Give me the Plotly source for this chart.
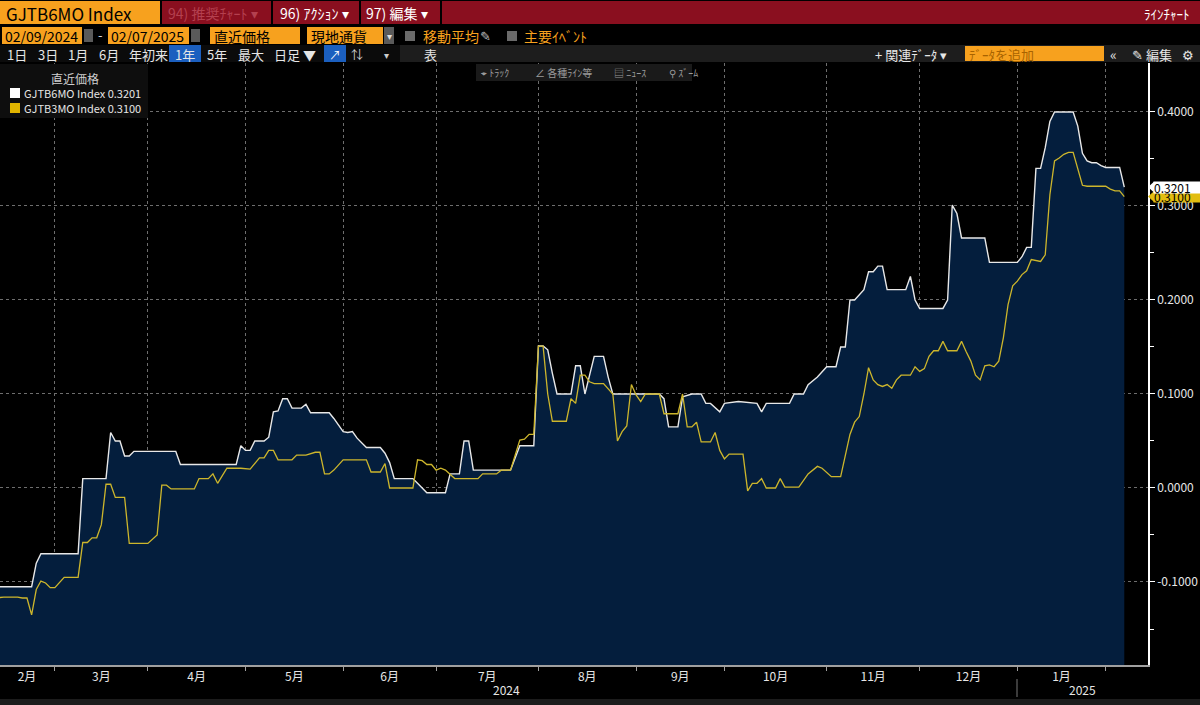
import pandas as pd
import plotly.graph_objects as go

# GJTB6MO (6M JGB bill yield), vertices
DATES_6M = [
    "2024-02-09", "2024-02-22", "2024-02-26", "2024-02-27", "2024-03-08", "2024-03-11",
    "2024-03-18", "2024-03-19", "2024-03-21", "2024-03-22", "2024-03-25", "2024-03-26",
    "2024-03-27", "2024-04-09", "2024-04-10", "2024-04-26", "2024-04-30", "2024-05-01",
    "2024-05-02", "2024-05-07", "2024-05-09", "2024-05-10", "2024-05-13", "2024-05-14",
    "2024-05-15", "2024-05-16", "2024-05-17", "2024-05-21", "2024-05-22", "2024-05-23",
    "2024-05-29", "2024-05-30", "2024-06-03", "2024-06-04", "2024-06-05", "2024-06-06",
    "2024-06-10", "2024-06-13", "2024-06-14", "2024-06-17", "2024-06-18", "2024-06-24",
    "2024-06-25", "2024-06-27", "2024-07-03", "2024-07-04", "2024-07-08", "2024-07-09",
    "2024-07-10", "2024-07-11", "2024-07-24", "2024-07-25", "2024-07-26", "2024-07-31",
    "2024-08-01", "2024-08-02", "2024-08-05", "2024-08-06", "2024-08-07", "2024-08-13",
    "2024-08-14", "2024-08-15", "2024-08-16", "2024-08-20", "2024-08-22", "2024-08-23",
    "2024-08-26", "2024-09-09", "2024-09-10", "2024-09-11", "2024-09-13", "2024-09-17",
    "2024-09-19", "2024-09-24", "2024-09-25", "2024-09-26", "2024-09-30", "2024-10-01",
    "2024-10-04", "2024-10-10", "2024-10-11", "2024-10-15", "2024-10-22", "2024-10-23",
    "2024-10-25", "2024-10-28", "2024-10-30", "2024-11-01", "2024-11-06", "2024-11-07",
    "2024-11-08", "2024-11-11", "2024-11-12", "2024-11-14", "2024-11-15", "2024-11-18",
    "2024-11-19", "2024-11-20", "2024-11-21", "2024-11-27", "2024-11-28", "2024-11-29",
    "2024-12-02", "2024-12-09", "2024-12-10", "2024-12-11", "2024-12-12", "2024-12-13",
    "2024-12-20", "2024-12-23", "2025-01-06", "2025-01-07", "2025-01-08", "2025-01-09",
    "2025-01-10", "2025-01-14", "2025-01-15", "2025-01-16", "2025-01-17", "2025-01-23",
    "2025-01-24", "2025-01-27", "2025-01-28", "2025-01-29", "2025-01-30", "2025-01-31",
    "2025-02-03", "2025-02-06", "2025-02-07",
]
YIELD_6M = [
    -0.105, -0.105, -0.080, -0.070, -0.070, 0.010,
    0.010, 0.059, 0.050, 0.050, 0.034, 0.034,
    0.039, 0.039, 0.025, 0.025, 0.045, 0.040,
    0.040, 0.050, 0.050, 0.054, 0.081, 0.082,
    0.095, 0.095, 0.085, 0.085, 0.089, 0.080,
    0.080, 0.074, 0.060, 0.059, 0.060, 0.053,
    0.043, 0.043, 0.037, 0.027, 0.010, 0.010,
    0.005, -0.005, -0.005, 0.015, 0.015, 0.050,
    0.050, 0.019, 0.019, 0.033, 0.045, 0.045,
    0.151, 0.151, 0.147, 0.122, 0.100, 0.100,
    0.130, 0.130, 0.100, 0.140, 0.140, 0.118,
    0.100, 0.100, 0.095, 0.065, 0.065, 0.097,
    0.100, 0.100, 0.090, 0.090, 0.081, 0.090,
    0.092, 0.090, 0.081, 0.090, 0.090, 0.100,
    0.100, 0.110, 0.118, 0.129, 0.129, 0.150,
    0.150, 0.200, 0.200, 0.211, 0.230, 0.230,
    0.236, 0.236, 0.211, 0.211, 0.225, 0.200,
    0.191, 0.191, 0.200, 0.301, 0.292, 0.266,
    0.266, 0.240, 0.240, 0.246, 0.256, 0.256,
    0.340, 0.340, 0.362, 0.390, 0.400, 0.400,
    0.385, 0.356, 0.348, 0.346, 0.346, 0.343,
    0.341, 0.341, 0.3201,
]

# GJTB3MO (3M JGB bill yield)
DATES_3M = [
    "2024-02-09", "2024-02-13", "2024-02-14", "2024-02-19", "2024-02-20", "2024-02-21",
    "2024-02-22", "2024-02-26", "2024-02-27", "2024-02-28", "2024-02-29", "2024-03-01",
    "2024-03-04", "2024-03-05", "2024-03-08", "2024-03-11", "2024-03-12", "2024-03-13",
    "2024-03-14", "2024-03-15", "2024-03-18", "2024-03-19", "2024-03-21", "2024-03-25",
    "2024-03-26", "2024-04-01", "2024-04-03", "2024-04-04", "2024-04-05", "2024-04-08",
    "2024-04-15", "2024-04-16", "2024-04-18", "2024-04-19", "2024-04-22", "2024-04-24",
    "2024-04-30", "2024-05-02", "2024-05-08", "2024-05-09", "2024-05-10", "2024-05-13",
    "2024-05-14", "2024-05-17", "2024-05-20", "2024-05-22", "2024-05-24", "2024-05-27",
    "2024-05-28", "2024-05-29", "2024-05-30", "2024-06-03", "2024-06-10", "2024-06-11",
    "2024-06-13", "2024-06-14", "2024-06-17", "2024-06-24", "2024-06-25", "2024-06-26",
    "2024-06-27", "2024-06-28", "2024-07-01", "2024-07-02", "2024-07-03", "2024-07-05",
    "2024-07-12", "2024-07-16", "2024-07-19", "2024-07-22", "2024-07-24", "2024-07-25",
    "2024-07-26", "2024-07-29", "2024-07-30", "2024-07-31", "2024-08-01", "2024-08-02",
    "2024-08-05", "2024-08-06", "2024-08-09", "2024-08-13", "2024-08-14", "2024-08-15",
    "2024-08-16", "2024-08-19", "2024-08-20", "2024-08-22", "2024-08-23", "2024-08-26",
    "2024-08-27", "2024-08-28", "2024-08-29", "2024-08-30", "2024-09-02", "2024-09-03",
    "2024-09-04", "2024-09-09", "2024-09-10", "2024-09-13", "2024-09-17", "2024-09-18",
    "2024-09-19", "2024-09-20", "2024-09-24", "2024-09-26", "2024-09-27", "2024-09-30",
    "2024-10-01", "2024-10-02", "2024-10-07", "2024-10-08", "2024-10-09", "2024-10-10",
    "2024-10-11", "2024-10-15", "2024-10-17", "2024-10-18", "2024-10-21", "2024-10-24",
    "2024-10-28", "2024-10-29", "2024-10-30", "2024-10-31", "2024-11-01", "2024-11-05",
    "2024-11-07", "2024-11-08", "2024-11-11", "2024-11-12", "2024-11-13", "2024-11-14",
    "2024-11-15", "2024-11-18", "2024-11-19", "2024-11-20", "2024-11-21", "2024-11-22",
    "2024-11-25", "2024-11-26", "2024-11-28", "2024-11-29", "2024-12-02", "2024-12-03",
    "2024-12-04", "2024-12-05", "2024-12-06", "2024-12-09", "2024-12-10", "2024-12-12",
    "2024-12-13", "2024-12-16", "2024-12-17", "2024-12-18", "2024-12-19", "2024-12-20",
    "2024-12-23", "2024-12-24", "2024-12-25", "2024-12-26", "2024-12-27", "2024-12-30",
    "2025-01-06", "2025-01-07", "2025-01-08", "2025-01-09", "2025-01-10", "2025-01-14",
    "2025-01-15", "2025-01-16", "2025-01-17", "2025-01-20", "2025-01-21", "2025-01-22",
    "2025-01-23", "2025-01-24", "2025-01-27", "2025-01-28", "2025-02-03", "2025-02-04",
    "2025-02-05", "2025-02-06", "2025-02-07",
]
YIELD_3M = [
    -0.119, -0.117, -0.116, -0.116, -0.117, -0.117,
    -0.135, -0.108, -0.099, -0.101, -0.106, -0.106,
    -0.100, -0.095, -0.095, -0.058, -0.058, -0.053,
    -0.053, -0.039, 0.004, 0.004, -0.010, -0.010,
    -0.059, -0.059, -0.050, 0.003, 0.003, -0.001,
    -0.001, 0.010, 0.010, 0.015, 0.005, 0.021,
    0.021, 0.020, 0.032, 0.032, 0.040, 0.040,
    0.030, 0.030, 0.035, 0.035, 0.038, 0.038,
    0.015, 0.015, 0.019, 0.030, 0.030, 0.017,
    0.017, 0.026, 0.000, 0.000, 0.030, 0.029,
    0.025, 0.025, 0.019, 0.021, 0.019, 0.010,
    0.010, 0.015, 0.015, 0.019, 0.019, 0.035,
    0.051, 0.052, 0.057, 0.057, 0.151, 0.151,
    0.100, 0.071, 0.071, 0.095, 0.090, 0.120,
    0.120, 0.113, 0.111, 0.111, 0.105, 0.100,
    0.050, 0.060, 0.066, 0.110, 0.099, 0.092,
    0.100, 0.100, 0.079, 0.079, 0.100, 0.065,
    0.065, 0.070, 0.049, 0.049, 0.059, 0.040,
    0.031, 0.036, 0.036, -0.003, 0.005, 0.005,
    0.010, 0.000, 0.000, 0.010, 0.001, 0.001,
    0.015, 0.019, 0.023, 0.021, 0.016, 0.012,
    0.012, 0.035, 0.057, 0.070, 0.076, 0.100,
    0.128, 0.115, 0.110, 0.108, 0.110, 0.106,
    0.115, 0.120, 0.120, 0.129, 0.124, 0.127,
    0.140, 0.146, 0.146, 0.156, 0.146, 0.146,
    0.156, 0.145, 0.135, 0.120, 0.115, 0.130,
    0.131, 0.129, 0.135, 0.160, 0.195, 0.215,
    0.220, 0.227, 0.231, 0.243, 0.242, 0.241,
    0.248, 0.312, 0.348, 0.351, 0.355, 0.357,
    0.357, 0.338, 0.322, 0.321, 0.321, 0.318,
    0.316, 0.316, 0.3100,
]

SERIES_NAMES = ["GJTB6MO Index", "GJTB3MO Index"]
LAST_VALUES = [0.3201, 0.3100]

# first trading day of each month (grid lines) and the month labels between them
MONTH_STARTS = [
    "2024-02-13", "2024-03-01", "2024-04-01", "2024-05-01", "2024-06-03", "2024-07-01",
    "2024-08-01", "2024-09-02", "2024-10-01", "2024-11-01", "2024-12-02", "2025-01-06",
    "2025-02-03",
]
MONTH_LABELS = ["2月", "3月", "4月", "5月", "6月", "7月", "8月", "9月", "10月", "11月", "12月", "1月"]
YEAR_LABELS = ["2024", "2025"]
Y_TICKS = [-0.1, 0.0, 0.1, 0.2, 0.3, 0.4]
Y_MINOR = [-0.15, -0.05, 0.05, 0.15, 0.25, 0.35]

# Tokyo market holidays skipped by the time axis
JP_HOLIDAYS = [
    "2024-02-12", "2024-02-23", "2024-03-20", "2024-04-29", "2024-05-03", "2024-05-06",
    "2024-07-15", "2024-08-12", "2024-09-16", "2024-09-23", "2024-10-14", "2024-11-04",
    "2024-12-31", "2025-01-01", "2025-01-02", "2025-01-03", "2025-01-13", "2025-02-11",
]

X_RANGE = ["2024-02-13 04:48", "2025-02-17 02:24"]
Y_RANGE = [-0.1883, 0.4521]

FONT = "Liberation Sans Narrow, Arial Narrow, Noto Sans CJK JP, sans-serif"
RED = "#8a0f1f"
ORANGE = "#f7a11e"
NAVY = "#041e3d"
WHITE_LINE = "#e8e8e8"
YELLOW_LINE = "#cdb62c"
GRID = "#6e6e6e"

W, H = 1200, 705
ML, MR, MT, MB = 0, 52, 63, 40
PW, PH = W - ML - MR, H - MT - MB


def fx(px):
    return (px - ML) / PW


def fy(py):
    return (H - MB - py) / PH


shapes = []
annotations = []


def box(x0, y0, x1, y1, color):
    shapes.append(dict(type="rect", xref="paper", yref="paper",
                       x0=fx(x0), x1=fx(x1), y0=fy(y1), y1=fy(y0),
                       fillcolor=color, line_width=0, layer="above"))


def label(x, y, text, color="#e6e6e6", size=12, anchor="left"):
    annotations.append(dict(xref="paper", yref="paper", x=fx(x), y=fy(y), text=text,
                            showarrow=False, xanchor=anchor, yanchor="middle",
                            font=dict(family=FONT, size=size, color=color)))


# month label positions: middle of each month's trading days
cal = pd.bdate_range("2024-02-01", "2025-02-28", freq="C", holidays=JP_HOLIDAYS)
label_pos = []
for a, b in zip(MONTH_STARTS[:-1], MONTH_STARTS[1:]):
    m = (cal.get_loc(pd.Timestamp(a)) + cal.get_loc(pd.Timestamp(b))) / 2
    label_pos.append(cal[int(m)] + pd.Timedelta(hours=24 * (m % 1)))

fig = go.Figure()
fig.add_trace(go.Scatter(x=DATES_6M, y=[Y_RANGE[0]] * len(DATES_6M), mode="lines",
                         line=dict(width=0), hoverinfo="skip", showlegend=False))
fig.add_trace(go.Scatter(x=DATES_6M, y=YIELD_6M, mode="lines", name=SERIES_NAMES[0],
                         fill="tonexty", fillcolor=NAVY,
                         line=dict(color=WHITE_LINE, width=1.4), showlegend=False))
fig.add_trace(go.Scatter(x=DATES_3M, y=YIELD_3M, mode="lines", name=SERIES_NAMES[1],
                         line=dict(color=YELLOW_LINE, width=1.3), showlegend=False))

# --- terminal header rows ---
box(0, 1, 1200, 24, RED)
box(0, 1, 160, 24, ORANGE)
for sx in (160, 271, 359, 440):
    box(sx, 1, sx + 2, 24, "#000000")
label(4, 13, "GJTB6MO Index", "#000000", 17)
label(166, 13, "94) 推奨ﾁｬｰﾄ ▾", "#b4404f", 14)
label(278, 13, "96) ｱｸｼｮﾝ ▾", "#ffffff", 14)
label(364, 13, "97) 編集 ▾", "#ffffff", 14)
label(1192, 13, "ﾗｲﾝﾁｬｰﾄ", "#ffffff", 13, "right")

box(2, 27, 82, 44, ORANGE)
box(84, 29, 93, 42, "#5a5a5a")
label(100, 35, "-", "#dddddd", 13, "center")
box(108, 27, 189, 44, ORANGE)
box(191, 29, 200, 42, "#5a5a5a")
box(210, 27, 300, 44, ORANGE)
box(307, 27, 383, 44, ORANGE)
box(384, 27, 394, 44, "#5a5a5a")
box(405, 31, 415, 41, "#6a6a6a")
box(507, 31, 517, 41, "#6a6a6a")
label(3, 36, "02/09/2024", "#000000", 14)
label(109, 36, "02/07/2025", "#000000", 14)
label(212, 36, "直近価格", "#000000", 14)
label(309, 36, "現地通貨", "#000000", 14)
label(389, 36, "▾", "#dddddd", 10, "center")
label(421, 36, "移動平均", ORANGE, 14)
label(478, 36, "✎", "#bbbbbb", 13)
label(522, 36, "主要ｲﾍﾞﾝﾄ", ORANGE, 14)

box(0, 45, 400, 62, "#0b0b0b")
box(400, 45, 1200, 62, "#1d1d1d")
box(169, 45, 201, 62, "#1b5fbf")
box(324, 45, 346, 62, "#1b5fbf")
for x, t in [(5, "1日"), (36, "3日"), (66, "1月"), (97, "6月"), (127, "年初来"),
             (173, "1年"), (205, "5年"), (236, "最大"), (272, "日足 ▼")]:
    label(x, 54, t, "#e6e6e6", 13)
label(335, 54, "↗", "#ffffff", 12, "center")
label(357, 54, "⇅", "#cccccc", 12, "center")
label(386, 54, "▾", "#cccccc", 10, "center")
label(430, 54, "表", "#e6e6e6", 13, "center")
label(873, 54, "+ 関連ﾃﾞｰﾀ ▾", "#e6e6e6", 13)
box(965, 46, 1104, 61, ORANGE)
label(967, 54, "ﾃﾞｰﾀを追加", "#a86300", 13)
label(1113, 54, "«", "#e6e6e6", 14, "center")
label(1130, 54, "✎ 編集", "#e6e6e6", 13)
label(1188, 54, "⚙", "#e6e6e6", 13, "center")

# chart tool strip
box(476, 64, 692, 81, "#1a1a1a")
label(479, 72, "⌖ ﾄﾗｯｸ", "#9a9a9a", 10)
label(533, 72, "∠ 各種ﾗｲﾝ等", "#9a9a9a", 10)
label(612, 72, "▤ ﾆｭｰｽ", "#9a9a9a", 10)
label(667, 72, "⚲ ｽﾞｰﾑ", "#9a9a9a", 10)

# legend box
box(0, 64, 148, 118, "#0e0e0e")
label(75, 78, "直近価格", "#cfcfcf", 12, "center")
box(10, 88, 20, 98, "#ffffff")
box(10, 103, 20, 113, "#e0b400")
label(22, 93, f"{SERIES_NAMES[0]} {LAST_VALUES[0]:.4f}", "#e6e6e6", 11)
label(22, 108, f"{SERIES_NAMES[1]} {LAST_VALUES[1]:.4f}", "#e6e6e6", 11)

# last value tags on the right axis (3M first so the 6M tag sits on top)
for val, bg in [(LAST_VALUES[1], "#e2bd10"), (LAST_VALUES[0], "#ffffff")]:
    annotations.append(dict(xref="paper", yref="y", x=fx(1153), y=val, text=f"{val:.4f}",
                            showarrow=False, xanchor="left", yanchor="middle",
                            bgcolor=bg, borderpad=0, width=47, height=11, align="left",
                            font=dict(family=FONT, size=12, color="#000000")))
    shapes.append(dict(type="path", xref="paper", yref="y", fillcolor=bg, line_width=0,
                       layer="above",
                       path=f"M {fx(1148)} {val} L {fx(1154)} {val + 0.0058} "
                            f"L {fx(1154)} {val - 0.0058} Z"))

# year row under the month labels
label(506, 689, YEAR_LABELS[0], "#e6e6e6", 12, "center")
label(1082, 689, YEAR_LABELS[1], "#e6e6e6", 12, "center")
shapes.append(dict(type="line", xref="paper", yref="paper", x0=fx(1017), x1=fx(1017),
                   y0=fy(679), y1=fy(697), line=dict(color="#777777", width=1)))
box(0, 699, 1200, 705, "#1c1c1c")

fig.update_layout(
    width=W, height=H, autosize=False,
    margin=dict(l=ML, r=MR, t=MT, b=MB),
    paper_bgcolor="#000000", plot_bgcolor="#000000",
    font=dict(family=FONT, color="#e6e6e6"),
    showlegend=False, hovermode=False,
    shapes=shapes, annotations=annotations,
    xaxis=dict(
        type="date", range=X_RANGE,
        rangebreaks=[dict(bounds=["sat", "mon"]), dict(values=JP_HOLIDAYS)],
        tickvals=label_pos, ticktext=MONTH_LABELS, ticks="",
        tickfont=dict(family=FONT, size=12, color="#e6e6e6"),
        showgrid=False, zeroline=False,
        showline=True, linecolor="#a0a0a0", linewidth=2,
        minor=dict(tickvals=MONTH_STARTS[1:], ticks="outside", ticklen=4,
                   tickcolor="#a0a0a0", showgrid=True, gridcolor=GRID,
                   griddash="dot", gridwidth=1),
    ),
    yaxis=dict(
        side="right", range=Y_RANGE,
        tickvals=Y_TICKS, ticktext=[f"{v:.4f}" for v in Y_TICKS],
        ticks="outside", ticklen=5, tickcolor="#ffffff",
        tickfont=dict(family=FONT, size=12, color="#e6e6e6"),
        showline=True, linecolor="#ffffff", linewidth=1.5,
        showgrid=True, gridcolor=GRID, griddash="dot", gridwidth=1,
        zeroline=False,
        minor=dict(tickvals=Y_MINOR, ticks="outside", ticklen=4,
                   tickcolor="#ffffff", showgrid=False),
    ),
)

fig.write_html("out.html", config={"displayModeBar": False},
               post_script="document.body.style.margin='0';")
